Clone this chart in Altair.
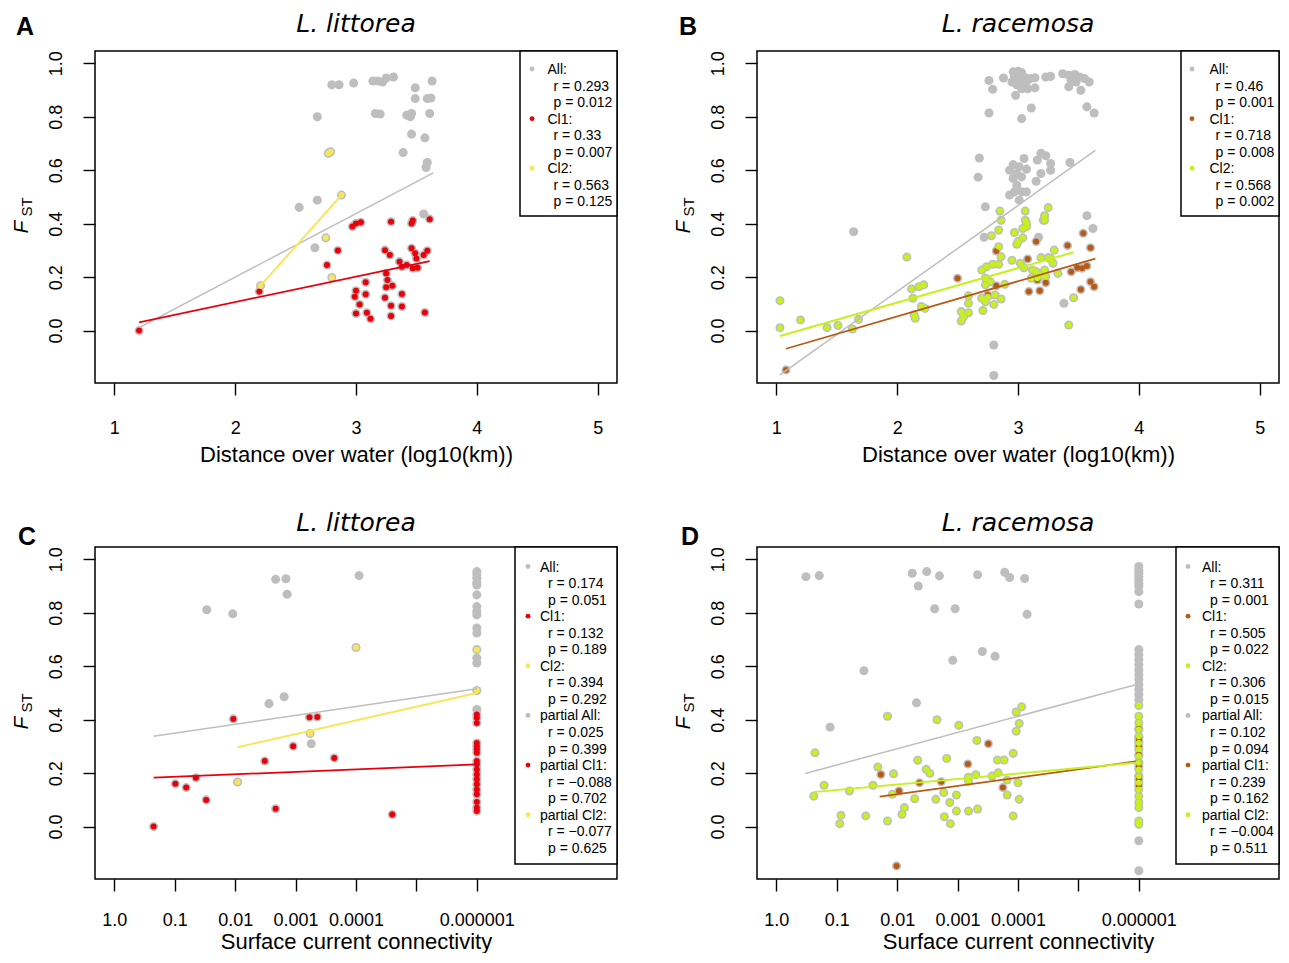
import altair as alt
import pandas as pd

# ---------------- colours ----------------
GRAY = "#BEBEBE"
RED = "#E8000B"
YELLOW = "#F8E65A"
BROWN = "#B85A14"
GREEN = "#C6F01E"

# ---------------- Panel A: L. littorea, distance ----------------
A_all_x = [2.80, 2.86, 2.98, 3.14, 3.18, 3.22, 3.25, 3.31, 3.63, 3.49, 3.49, 3.59, 3.62, 2.68, 3.16,
           3.20, 3.42, 3.46, 3.45, 3.61, 3.46, 3.57, 3.39, 3.59, 3.58, 2.53, 2.68, 3.56, 2.66]
A_all_y = [0.92, 0.92, 0.926, 0.934, 0.934, 0.930, 0.945, 0.949, 0.934, 0.908, 0.868, 0.868, 0.870, 0.80, 0.812,
           0.81, 0.806, 0.812, 0.80, 0.812, 0.735, 0.721, 0.666, 0.629, 0.61, 0.461, 0.488, 0.436, 0.31]
A_cl1_x = [1.205, 2.20, 2.97, 3.00, 3.04, 3.29, 3.46, 3.47, 3.61, 2.85, 3.24, 3.28, 3.46, 3.49, 3.50, 3.56,
           3.59, 3.36, 3.38, 3.42, 3.47, 3.51, 2.76, 3.25, 3.26, 3.25, 3.30, 3.08, 3.00, 2.99, 3.08, 3.38,
           3.24, 3.03, 3.29, 3.38, 3.00, 3.09, 3.12, 3.29, 3.57]
A_cl1_y = [0.0, 0.146, 0.389, 0.401, 0.405, 0.407, 0.401, 0.412, 0.417, 0.30, 0.301, 0.283, 0.308, 0.289, 0.270,
           0.283, 0.299, 0.258, 0.239, 0.245, 0.233, 0.235, 0.245, 0.214, 0.189, 0.162, 0.168, 0.181, 0.149,
           0.127, 0.136, 0.137, 0.123, 0.098, 0.093, 0.09, 0.064, 0.067, 0.044, 0.055, 0.068]
A_cl2_x = [2.77, 2.79, 2.88, 2.75, 2.80, 2.21]
A_cl2_y = [0.663, 0.669, 0.507, 0.347, 0.199, 0.168]
A_line_all = ([1.205, 3.64], [0.011, 0.59])
A_line_cl1 = ([1.205, 3.61], [0.031, 0.26])
A_line_cl2 = ([2.21, 2.88], [0.168, 0.507])
A_leg_label = ["All:", "Cl1:", "Cl2:"]
A_leg_r = ["0.293", "0.33", "0.563"]
A_leg_p = ["0.012", "0.007", "0.125"]

# ---------------- Panel B: L. racemosa, distance ----------------
B_all_x = [2.76, 2.88, 2.79,
           2.96, 3.00, 3.03, 2.97, 3.01, 3.05, 2.95, 2.99, 3.03, 3.07, 3.10, 3.14, 3.08, 3.14, 2.98, 3.03,
           3.23, 3.27, 3.37, 3.42, 3.47, 3.51, 3.55, 3.59, 3.44, 3.48, 3.42, 3.52,
           2.76, 3.03, 3.11, 3.57, 3.63,
           2.68, 2.67, 2.93, 2.96, 3.01, 3.05, 2.99, 3.03, 3.07, 2.96,
           3.16, 3.19, 3.23, 3.27, 3.27, 3.19, 3.15, 3.43,
           2.99, 3.03, 2.93, 3.01, 3.07, 2.97, 2.73, 1.64, 2.72, 3.17, 3.21, 3.57, 3.62, 3.38, 2.80, 2.80]
B_all_y = [0.936, 0.945, 0.903,
           0.968, 0.970, 0.965, 0.949, 0.943, 0.949, 0.930, 0.920, 0.924, 0.930, 0.943, 0.946, 0.905, 0.908, 0.880, 0.905,
           0.949, 0.951, 0.961, 0.955, 0.958, 0.949, 0.943, 0.930, 0.936, 0.930, 0.912, 0.899,
           0.814, 0.793, 0.833, 0.837, 0.814,
           0.646, 0.574, 0.600, 0.621, 0.613, 0.644, 0.588, 0.575, 0.604, 0.569,
           0.638, 0.663, 0.654, 0.625, 0.600, 0.588, 0.559, 0.629,
           0.544, 0.519, 0.507, 0.488, 0.519, 0.519, 0.463, 0.370, 0.349, 0.349, 0.413, 0.430, 0.382, 0.102, -0.054, -0.168]
B_cl1_x = [1.08, 2.50, 2.82, 2.75, 2.82, 3.08, 3.15, 3.16, 3.23, 3.09, 3.18, 3.41, 3.44, 3.49, 3.53, 3.57,
           3.54, 3.60, 3.52, 3.60, 3.63]
B_cl1_y = [-0.147, 0.196, 0.298, 0.133, 0.168, 0.268, 0.333, 0.189, 0.179, 0.146, 0.149, 0.318, 0.220, 0.235,
           0.233, 0.242, 0.364, 0.310, 0.154, 0.183, 0.164]
B_cl2_x = [1.03, 1.03, 1.20, 1.42, 1.51, 1.63, 1.68, 2.08, 2.12, 2.18, 2.22, 2.13, 2.20, 2.23, 2.14, 2.15,
           2.53, 2.55, 2.59, 2.53, 2.59, 2.59, 2.70, 2.74, 2.79, 2.84, 2.73, 2.77, 2.73, 2.70, 2.73, 2.75,
           2.71, 2.81, 2.86, 2.80, 2.85, 2.86, 2.78, 2.84, 2.84, 2.86, 2.89, 2.95, 3.06, 3.06, 3.07, 3.04,
           3.07, 2.97, 3.04, 2.99, 3.00, 3.02, 3.05, 3.12, 3.15, 3.11, 3.16, 3.19, 3.19, 3.25, 3.30, 3.27,
           3.22, 3.23, 3.29, 3.33, 3.25, 3.22, 3.22, 3.46, 3.42]
B_cl2_y = [0.112, 0.011, 0.040, 0.011, 0.019, 0.006, 0.042, 0.275, 0.156, 0.164, 0.171, 0.121, 0.090, 0.083,
           0.059, 0.046, 0.071, 0.052, 0.067, 0.036, 0.130, 0.102, 0.227, 0.239, 0.248, 0.248, 0.196, 0.183,
           0.171, 0.121, 0.108, 0.127, 0.075, 0.133, 0.118, 0.098, 0.447, 0.413, 0.355, 0.376, 0.314, 0.276,
           0.173, 0.263, 0.447, 0.413, 0.389, 0.382, 0.401, 0.367, 0.347, 0.323, 0.333, 0.252, 0.235, 0.227,
           0.220, 0.196, 0.196, 0.208, 0.273, 0.273, 0.301, 0.270, 0.227, 0.202, 0.252, 0.214, 0.460, 0.430,
           0.413, 0.123, 0.021]
B_line_all = ([1.03, 3.64], [-0.166, 0.674])
B_line_cl1 = ([1.08, 3.64], [-0.068, 0.269])
B_line_cl2 = ([1.03, 3.46], [-0.020, 0.293])
B_leg_label = ["All:", "Cl1:", "Cl2:"]
B_leg_r = ["0.46", "0.718", "0.568"]
B_leg_p = ["0.001", "0.008", "0.002"]

# ---------------- Panel C: L. littorea, connectivity (-log10) ----------------
COL_X = 6.0  # pairs at the 0.000001 floor
C_all_x = [2.67, 2.84, 2.86, 4.05, 1.53, 1.96, 2.56, 2.81, 3.26]
C_all_y = [0.925, 0.927, 0.869, 0.939, 0.811, 0.796, 0.460, 0.486, 0.310]
C_all_col_y = [0.954, 0.942, 0.929, 0.913, 0.904, 0.867, 0.823, 0.805, 0.792, 0.743, 0.724, 0.631, 0.612, 0.438]
C_cl1_x = [0.65, 1.01, 1.19, 1.35, 1.52, 1.97, 2.49, 2.67, 2.96, 3.23, 3.36, 3.64, 4.60]
C_cl1_y = [0.0, 0.160, 0.146, 0.183, 0.100, 0.403, 0.245, 0.067, 0.301, 0.409, 0.410, 0.257, 0.045]
C_cl1_col_y = [0.419, 0.407, 0.388, 0.313, 0.301, 0.289, 0.276, 0.245, 0.233, 0.214, 0.195, 0.177, 0.158,
               0.139, 0.121, 0.092, 0.071, 0.058]
C_cl2_x = [4.0, 3.24, 2.04]
C_cl2_y = [0.670, 0.348, 0.167]
C_cl2_col_y = [0.662, 0.509]
C_line_all = ([0.65, 6.0], [0.338, 0.516])
C_line_cl1 = ([0.65, 6.0], [0.183, 0.233])
C_line_cl2 = ([2.04, 6.0], [0.297, 0.500])
C_leg_label = ["All:", "Cl1:", "Cl2:", "partial All:", "partial Cl1:", "partial Cl2:"]
C_leg_r = ["0.174", "0.132", "0.394", "0.025", "\u22120.088", "\u22120.077"]
C_leg_p = ["0.051", "0.189", "0.292", "0.399", "0.702", "0.625"]

# ---------------- Panel D: L. racemosa, connectivity (-log10) ----------------
D_all_x = [0.49, 0.71, 2.25, 2.49, 2.70, 2.35, 3.33, 3.78, 3.86, 4.11, 2.62, 2.96, 4.15, 3.41, 3.62, 2.92,
           1.45, 2.32, 0.89]
D_all_y = [0.935, 0.939, 0.948, 0.954, 0.938, 0.900, 0.942, 0.951, 0.932, 0.928, 0.815, 0.815, 0.794, 0.655,
           0.637, 0.622, 0.583, 0.463, 0.372]
D_all_col_y = [0.973, 0.960, 0.948, 0.935, 0.923, 0.910, 0.898, 0.879, 0.833, 0.662, 0.643, 0.624, 0.606,
               0.587, 0.568, 0.550, 0.531, 0.512, 0.494, 0.475, -0.053, -0.165]
D_cl1_x = [1.73, 2.03, 2.37, 2.73, 3.17, 3.51, 3.75, 1.99]
D_cl1_y = [0.195, 0.133, 0.164, 0.168, 0.234, 0.310, 0.146, -0.147]
D_cl1_col_y = [0.366, 0.332, 0.320, 0.301, 0.270, 0.239, 0.226, 0.189, 0.177, 0.154]
D_cl2_x = [0.64, 0.79, 0.62, 1.21, 1.07, 1.05, 1.48, 1.60, 1.68, 1.84, 1.94, 1.92, 1.84, 2.12, 2.08, 2.29,
           2.34, 2.48, 2.54, 2.66, 2.82, 2.77, 2.64, 2.87, 2.98, 2.78, 2.88, 2.98, 3.02, 3.32, 3.18, 3.30,
           3.18, 3.18, 3.33, 3.57, 3.67, 3.66, 3.77, 3.92, 3.82, 4.00, 3.82, 4.02, 3.92, 3.97, 4.06, 4.02, 3.97]
D_cl2_y = [0.276, 0.155, 0.114, 0.133, 0.042, 0.011, 0.040, 0.155, 0.223, 0.413, 0.198, 0.121, 0.021, 0.071,
           0.046, 0.104, 0.248, 0.214, 0.199, 0.400, 0.255, 0.127, 0.102, 0.090, 0.118, 0.037, 0.011, 0.058,
           0.379, 0.322, 0.185, 0.194, 0.170, 0.058, 0.066, 0.189, 0.201, 0.249, 0.249, 0.274, 0.174, 0.164,
           0.118, 0.102, 0.040, 0.429, 0.448, 0.386, 0.357]
D_cl2_col_y = [0.453, 0.413, 0.388, 0.363, 0.338, 0.313, 0.289, 0.264, 0.239, 0.214, 0.189, 0.164, 0.139,
               0.114, 0.090, 0.071, 0.021, 0.009]
D_line_all = ([0.48, 5.92], [0.199, 0.529])
D_line_cl1 = ([1.71, 5.95], [0.112, 0.244])
D_line_cl2 = ([0.61, 5.95], [0.129, 0.239])
D_leg_label = ["All:", "Cl1:", "Cl2:", "partial All:", "partial Cl1:", "partial Cl2:"]
D_leg_r = ["0.311", "0.505", "0.306", "0.102", "0.239", "\u22120.004"]
D_leg_p = ["0.001", "0.022", "0.015", "0.094", "0.162", "0.511"]

# ---------------- axes ----------------
DIST_TICKS = [1, 2, 3, 4, 5]
DIST_LABELS = ["1", "2", "3", "4", "5"]
CONN_TICKS = [0, 1, 2, 3, 4, 5, 6]
CONN_LABELS = ["1.0", "0.1", "0.01", "0.001", "0.0001", "", "0.000001"]
Y_TICKS = [0.0, 0.2, 0.4, 0.6, 0.8, 1.0]
Y_DOM = [-0.196, 1.046]
DIST_DOM = [0.84, 5.16]
CONN_DOM = [-0.32, 8.32]

W, H = 522, 332
FONT = "Liberation Sans"
LEG_FS = 14
LEG_LH = 16.55


def pts_frame(groups):
    rows = []
    for name, xs, ys in groups:
        for x, y in zip(xs, ys, strict=True):
            rows.append({"x": x, "y": y, "grp": name})
    return pd.DataFrame(rows)


def text_layer(s, x, y, **kw):
    props = dict(font=FONT, fontSize=LEG_FS, align="left", baseline="alphabetic", color="black")
    props.update(kw)
    return alt.Chart(pd.DataFrame({"t": [s]})).mark_text(**props).encode(
        text="t:N", x=alt.value(x), y=alt.value(y))


def panel(letter, title, letter_pos, title_dy, groups, lines, c1, c2, leg_label, leg_r, leg_p, leg_col,
          xdom, xticks, xlabels, xtitle, x_lab_pad, x_title_y, box_w, box_h, leg_top, dot_dx, head_dx, val_dx):
    pts = pts_frame(groups)
    lns = pts_frame([(n, lx, ly) for n, lx, ly in lines])
    cdom = ["All", "Cl1", "Cl2"]
    crng = [GRAY, c1, c2]
    label_arr = "[" + ",".join("'" + s + "'" for s in xlabels) + "]"
    tick_arr = "[" + ",".join(str(t) for t in xticks) + "]"
    xax = alt.Axis(values=xticks, labelExpr=label_arr + "[indexof(" + tick_arr + ", datum.value)]",
                   title=xtitle, labelBaseline="alphabetic", labelPadding=x_lab_pad,
                   titleBaseline="alphabetic", titleX=W / 2, titleY=x_title_y, titleAlign="center",
                   labelFlush=False, labelOverlap=False)
    yax = alt.Axis(values=Y_TICKS, format=".1f", title=None, labelAngle=270, labelAlign="center",
                   labelBaseline="alphabetic", labelPadding=22)
    xs = alt.Scale(domain=xdom, nice=False, zero=False)
    ys = alt.Scale(domain=Y_DOM, nice=False, zero=False)
    X = alt.X("x:Q", scale=xs, axis=xax)
    Y = alt.Y("y:Q", scale=ys, axis=yax)
    color = alt.Color("grp:N", scale=alt.Scale(domain=cdom, range=crng), legend=None)

    gray = alt.Chart(pts).mark_circle(size=82, color=GRAY, opacity=1).encode(x=X, y=Y)
    col = alt.Chart(pts).transform_filter("datum.grp != 'All'").mark_circle(size=36, opacity=1).encode(
        x=X, y=Y, color=color)
    ln = alt.Chart(lns).mark_line().encode(
        x=X, y=Y, color=color, detail="grp:N",
        size=alt.Size("grp:N", scale=alt.Scale(domain=cdom, range=[1.5, 2.0, 2.0]), legend=None))

    one = pd.DataFrame({"k": [0]})
    box_x = W - box_w
    box = alt.Chart(one).mark_rect(fill="white", stroke="black", strokeWidth=1.5).encode(
        x=alt.value(box_x), x2=alt.value(W), y=alt.value(0), y2=alt.value(box_h))
    legend_layers = []
    shift = 0.716 * LEG_FS / 2
    for i, (lab, r, p, c) in enumerate(zip(leg_label, leg_r, leg_p, leg_col)):
        yc = leg_top + 3 * i * LEG_LH
        legend_layers.append(alt.Chart(one).mark_circle(size=24, color=c, opacity=1).encode(
            x=alt.value(box_x + dot_dx), y=alt.value(yc)))
        legend_layers.append(text_layer(lab, box_x + head_dx, yc + shift))
        legend_layers.append(text_layer("r = " + r, box_x + val_dx, yc + LEG_LH + shift))
        legend_layers.append(text_layer("p = " + p, box_x + val_dx, yc + 2 * LEG_LH + shift))

    t_letter = text_layer(letter, letter_pos[0], letter_pos[1], fontWeight="bold", fontSize=25,
                          align="center")
    t_title = text_layer(title, W / 2, title_dy, font="DejaVu Sans", fontStyle="italic", fontSize=25,
                         align="center")
    t_f = text_layer("F", -67.5, 176, fontStyle="italic", fontSize=21, angle=270, align="center")
    t_st = text_layer("ST", -63.5, 156, fontSize=15, angle=270, align="center")

    return alt.layer(gray, col, ln, box, *legend_layers, t_letter, t_title, t_f, t_st
                     ).properties(width=W, height=H)


pA = panel("A", "L. littorea", (-70, -16), -19,
           [("All", A_all_x, A_all_y), ("Cl1", A_cl1_x, A_cl1_y), ("Cl2", A_cl2_x, A_cl2_y)],
           [("All", *A_line_all), ("Cl1", *A_line_cl1), ("Cl2", *A_line_cl2)],
           RED, YELLOW, A_leg_label, A_leg_r, A_leg_p, [GRAY, RED, YELLOW],
           DIST_DOM, DIST_TICKS, DIST_LABELS, "Distance over water (log10(km))", 38, 78,
           97, 165, 18, 12, 27.5, 33.5)
pB = panel("B", "L. racemosa", (-69, -16), -19,
           [("All", B_all_x, B_all_y), ("Cl1", B_cl1_x, B_cl1_y), ("Cl2", B_cl2_x, B_cl2_y)],
           [("All", *B_line_all), ("Cl1", *B_line_cl1), ("Cl2", *B_line_cl2)],
           BROWN, GREEN, B_leg_label, B_leg_r, B_leg_p, [GRAY, BROWN, GREEN],
           DIST_DOM, DIST_TICKS, DIST_LABELS, "Distance over water (log10(km))", 38, 78,
           98, 165, 18, 11, 28.5, 34.5)
pC = panel("C", "L. littorea", (-68, -2), -16,
           [("All", C_all_x, C_all_y), ("All", [COL_X] * len(C_all_col_y), C_all_col_y),
            ("Cl1", C_cl1_x, C_cl1_y), ("Cl1", [COL_X] * len(C_cl1_col_y), C_cl1_col_y),
            ("Cl2", C_cl2_x, C_cl2_y), ("Cl2", [COL_X] * len(C_cl2_col_y), C_cl2_col_y)],
           [("All", *C_line_all), ("Cl1", *C_line_cl1), ("Cl2", *C_line_cl2)],
           RED, YELLOW, C_leg_label, C_leg_r, C_leg_p, [GRAY, RED, YELLOW, GRAY, RED, YELLOW],
           CONN_DOM, CONN_TICKS, CONN_LABELS, "Surface current connectivity", 34, 69,
           102, 317, 19.5, 13, 25, 33)
pD = panel("D", "L. racemosa", (-67, -2), -16,
           [("All", D_all_x, D_all_y), ("All", [COL_X] * len(D_all_col_y), D_all_col_y),
            ("Cl1", D_cl1_x, D_cl1_y), ("Cl1", [COL_X] * len(D_cl1_col_y), D_cl1_col_y),
            ("Cl2", D_cl2_x, D_cl2_y), ("Cl2", [COL_X] * len(D_cl2_col_y), D_cl2_col_y)],
           [("All", *D_line_all), ("Cl1", *D_line_cl1), ("Cl2", *D_line_cl2)],
           BROWN, GREEN, D_leg_label, D_leg_r, D_leg_p, [GRAY, BROWN, GREEN, GRAY, BROWN, GREEN],
           CONN_DOM, CONN_TICKS, CONN_LABELS, "Surface current connectivity", 34, 69,
           103, 317, 19.5, 12, 26, 34)

chart = alt.concat(pA, pB, pC, pD, columns=2, spacing={"row": 164, "column": 140}, bounds="flush").resolve_scale(
    color="independent", size="independent"
).properties(
    padding={"left": 1, "top": 3, "right": 0, "bottom": 0}, background="white"
).configure_view(stroke="black", strokeWidth=1.5).configure_axis(
    labelFont=FONT, titleFont=FONT, labelFontSize=18, titleFontSize=22, labelColor="black",
    titleColor="black", titleFontWeight="normal", tickColor="black", tickWidth=1.4, tickSize=12,
    domain=False, grid=False
)

chart.save("out.html", embed_options={"renderer": "svg", "actions": False})
